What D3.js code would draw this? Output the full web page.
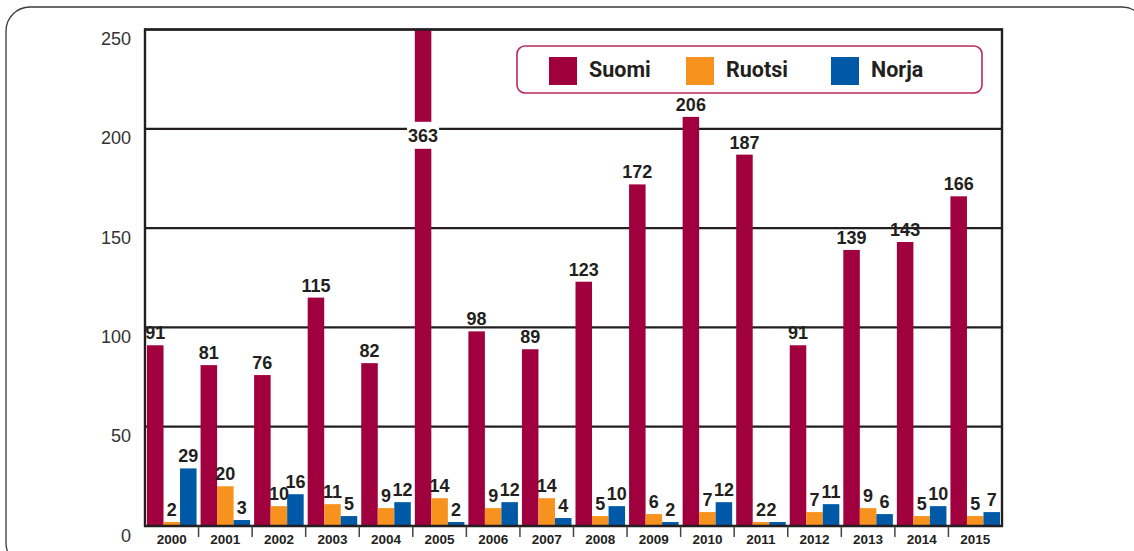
<!DOCTYPE html>
<html>
<head>
<meta charset="utf-8">
<script src="https://cdn.jsdelivr.net/npm/d3@7"></script>
<style>
  html, body { margin: 0; padding: 0; background: #fff; }
  svg { display: block; }
</style>
</head>
<body>
<svg id="chart" width="1134" height="551"></svg>
<script>
const years = ["2000","2001","2002","2003","2004","2005","2006","2007","2008","2009","2010","2011","2012","2013","2014","2015"];
const seriesNames = ["Suomi", "Ruotsi", "Norja"];
const suomi  = [91, 81, 76, 115, 82, 363, 98, 89, 123, 172, 206, 187, 91, 139, 143, 166];
const ruotsi = [2, 20, 10, 11, 9, 14, 9, 14, 5, 6, 7, 2, 7, 9, 5, 5];
const norja  = [29, 3, 16, 5, 12, 2, 12, 4, 10, 2, 12, 2, 11, 6, 10, 7];
const yTicks = [0, 50, 100, 150, 200, 250];
const colors = ["#a1003f", "#f7921e", "#0059a6"];

(function () {
const seriesValues = [suomi, ruotsi, norja];
const svg = d3.select("#chart");

// outer rounded frame
svg.append("rect")
  .attr("x", 6).attr("y", 7).attr("width", 1140).attr("height", 560)
  .attr("rx", 24).attr("ry", 24)
  .attr("fill", "none").attr("stroke", "#3a3a3a").attr("stroke-width", 1.3);

const pL = 145, pR = 1002, pT = 29.5, pB = 526;
const y = d3.scaleLinear().domain([0, 250]).range([pB, pT]);
const x = d3.scaleBand().domain(years).range([pL, pR]).paddingInner(0).paddingOuter(0);
const xs = d3.scaleBand().domain(seriesNames).range([2, x.bandwidth() - 2]).padding(0);

svg.append("clipPath").attr("id", "plotclip")
  .append("rect").attr("x", pL).attr("y", pT).attr("width", pR - pL).attr("height", pB - pT);

// gridlines
svg.append("g").selectAll("line").data(yTicks.filter(d => d > 0)).join("line")
  .attr("x1", pL).attr("x2", pR)
  .attr("y1", d => y(d)).attr("y2", d => y(d))
  .attr("stroke", "#231f20").attr("stroke-width", 2.2);

// y tick labels
svg.append("g").selectAll("text").data(yTicks).join("text")
  .attr("x", 131).attr("y", d => y(d) + 15.5)
  .attr("text-anchor", "end")
  .attr("font-family", "Liberation Sans, Arial, sans-serif")
  .attr("font-size", 18).attr("fill", "#333")
  .text(d => d);

// bars
const rows = [];
years.forEach((yr, i) => {
  seriesNames.forEach((s, j) => rows.push({ year: yr, series: s, value: seriesValues[j][i], color: colors[j] }));
});

svg.append("g").attr("clip-path", "url(#plotclip)")
  .selectAll("rect").data(rows).join("rect")
  .attr("x", d => x(d.year) + xs(d.series))
  .attr("width", xs.bandwidth())
  .attr("y", d => y(Math.min(d.value, 260)))
  .attr("height", d => pB - y(Math.min(d.value, 260)))
  .attr("fill", d => d.color);

// frame of plot
svg.append("line").attr("x1", pL).attr("x2", pL).attr("y1", pT - 1).attr("y2", pB + 1)
  .attr("stroke", "#231f20").attr("stroke-width", 2.4);
svg.append("line").attr("x1", pR).attr("x2", pR).attr("y1", pT - 1).attr("y2", pB + 1)
  .attr("stroke", "#231f20").attr("stroke-width", 2.4);
svg.append("line").attr("x1", pL - 1).attr("x2", pR + 1).attr("y1", pB).attr("y2", pB)
  .attr("stroke", "#231f20").attr("stroke-width", 2.6);
svg.append("line").attr("x1", pL - 1).attr("x2", pR + 1).attr("y1", pT).attr("y2", pT)
  .attr("stroke", "#231f20").attr("stroke-width", 2.4);

// group separator ticks
svg.append("g").selectAll("line").data(years.slice(1)).join("line")
  .attr("x1", d => x(d)).attr("x2", d => x(d))
  .attr("y1", pB).attr("y2", pB + 11)
  .attr("stroke", "#444").attr("stroke-width", 1.5);

// year labels
svg.append("g").selectAll("text").data(years).join("text")
  .attr("x", d => x(d) + x.bandwidth() / 2).attr("y", 543.5)
  .attr("text-anchor", "middle")
  .attr("font-family", "Liberation Sans, Arial, sans-serif")
  .attr("font-weight", "bold").attr("font-size", 13.5).attr("fill", "#231f20")
  .text(d => d);

// value labels
const lab = svg.append("g");
const labFont = 18;
rows.forEach((d, k) => {
  let cx = x(d.year) + xs(d.series) + xs.bandwidth() / 2;
  const prev = rows[k - 1];
  if (prev && prev.year === d.year && prev.value === d.value && d.value < 10) cx -= 6;
  if (d.value > 250) {
    const by = y(200) + 13.5;
    const t = lab.append("text")
      .attr("x", cx).attr("y", by).attr("text-anchor", "middle")
      .attr("font-family", "Liberation Sans, Arial, sans-serif")
      .attr("font-weight", "bold").attr("font-size", labFont).attr("fill", "#231f20")
      .text(d.value);
    const bb = t.node().getBBox();
    lab.insert("rect", "text")
      .attr("x", bb.x - 1).attr("y", y(200) - 7).attr("width", bb.width + 2).attr("height", 27)
      .attr("fill", "#fff");
  } else {
    lab.append("text")
      .attr("x", cx).attr("y", y(d.value) - 6).attr("text-anchor", "middle")
      .attr("font-family", "Liberation Sans, Arial, sans-serif")
      .attr("font-weight", "bold").attr("font-size", labFont).attr("fill", "#231f20")
      .text(d.value);
  }
});

// legend
const lg = svg.append("g");
lg.append("rect").attr("x", 517).attr("y", 46).attr("width", 465).attr("height", 47)
  .attr("rx", 8).attr("ry", 8).attr("fill", "#fff")
  .attr("stroke", "#b8285f").attr("stroke-width", 1.6);
const legX = [549, 686, 831];
seriesNames.forEach((s, j) => {
  lg.append("rect").attr("x", legX[j]).attr("y", 57).attr("width", 28).attr("height", 28).attr("fill", colors[j]);
  lg.append("text").attr("x", legX[j] + 40).attr("y", 77)
    .attr("font-family", "Roboto, 'Open Sans', sans-serif")
    .attr("font-weight", "bold").attr("font-size", 21.5).attr("fill", "#231f20")
    .text(s);
});
})();
</script>
</body>
</html>
